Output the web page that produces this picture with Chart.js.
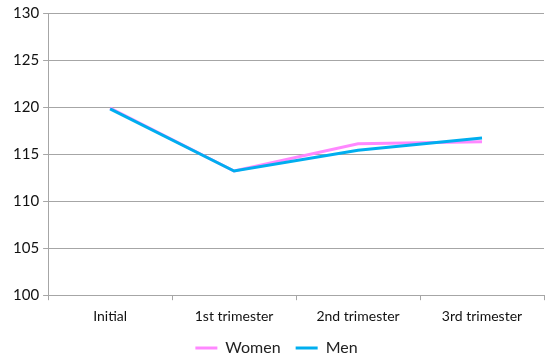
<!DOCTYPE html>
<html>
<head>
<meta charset="utf-8">
<script src="https://cdn.jsdelivr.net/npm/chart.js@4/dist/chart.umd.min.js"></script>
<style>
  html, body { margin: 0; padding: 0; background: #fff; }
  #wrap { width: 550px; height: 361px; }
</style>
</head>
<body>
<div id="wrap"><canvas id="mychart"></canvas></div>
<script>
var categories = ['Initial', '1st trimester', '2nd trimester', '3rd trimester'];
var women = [119.9, 113.2, 116.1, 116.3];
var men = [119.8, 113.2, 115.4, 116.7];

var gridColor = '#a6a6a6';

var ctx = document.getElementById('mychart');
var myChart = new Chart(ctx, {
  type: 'line',
  data: {
    labels: categories,
    datasets: [{
      label: 'Women',
      data: women,
      borderColor: '#ff88ff',
      backgroundColor: '#ff88ff',
      borderWidth: 3,
      pointRadius: 0,
      tension: 0,
      order: 1
    }, {
      label: 'Men',
      data: men,
      borderColor: '#00aeef',
      backgroundColor: '#00aeef',
      borderWidth: 3,
      pointRadius: 0,
      tension: 0,
      order: 0
    }]
  },
  options: {
    responsive: true,
    maintainAspectRatio: false,
    animation: false,
    layout: {
      padding: { top: 8, right: 6, left: 9, bottom: -5 }
    },
    plugins: {
      tooltip: { enabled: false },
      legend: {
        position: 'bottom',
        labels: {
          boxWidth: 22,
          boxHeight: 3,
          padding: 15,
          color: '#222',
          font: { family: 'Lato', size: 16 },
          sort: function (a, b) { return a.datasetIndex - b.datasetIndex; },
          generateLabels: function (chart) {
            var items = Chart.defaults.plugins.legend.labels.generateLabels(chart);
            items.forEach(function (it) { it.lineWidth = 0; });
            return items;
          }
        }
      }
    },
    scales: {
      x: {
        offset: true,
        afterFit: function (scale) {
          // legend padding is big for item spacing, win the height back here
          scale.height -= 8;
        },
        grid: {
          offset: true,
          drawOnChartArea: false,
          drawTicks: true,
          tickLength: 5,
          color: gridColor
        },
        border: { color: gridColor },
        ticks: {
          color: '#111',
          padding: 8,
          font: { family: 'Lato', size: 14 }
        }
      },
      y: {
        min: 100,
        max: 130,
        ticks: {
          stepSize: 5,
          color: '#111',
          padding: 4,
          font: { family: 'Lato', size: 15 }
        },
        grid: {
          color: gridColor,
          tickLength: 5
        },
        border: { color: gridColor }
      }
    }
  }
});
</script>
</body>
</html>
